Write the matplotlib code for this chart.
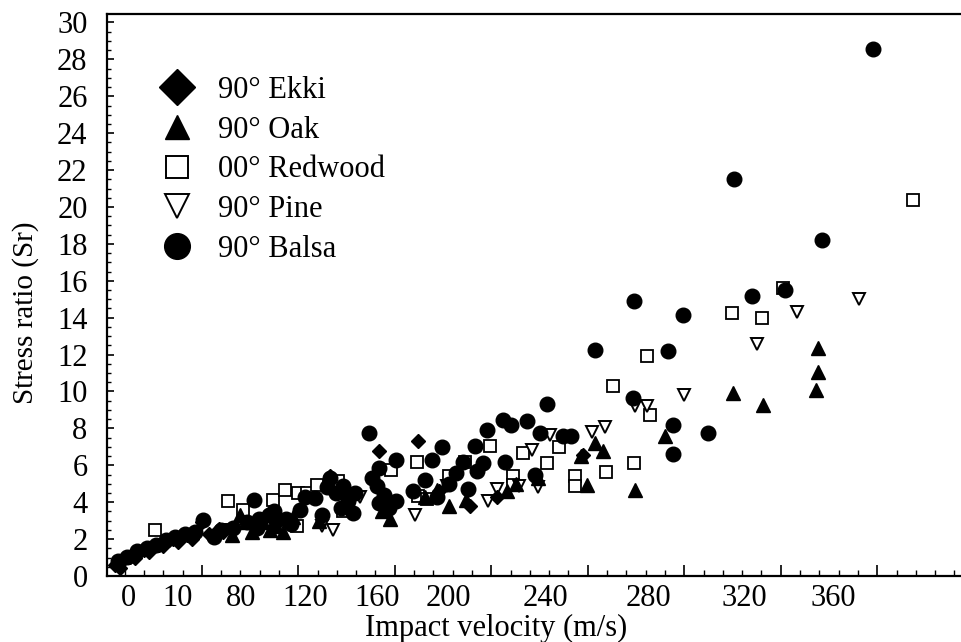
import numpy as np
import matplotlib.pyplot as plt
from matplotlib.lines import Line2D
from matplotlib.ticker import MultipleLocator, FixedLocator, NullFormatter

plt.rcParams['font.family'] = ['Liberation Serif', 'DejaVu Serif']

# ---- data: impact velocity (axis units) and stress ratio ----
ekki_v = [61, 64, 67, 70, 73, 76, 79, 82, 85, 88, 91, 94, 97, 100, 103, 106,
          63, 69, 75, 81, 87, 93, 104,
          124, 133, 150.4, 158, 171, 187, 196, 208.75, 220, 255.8]
ekki_sr = [0.6, 0.85, 1.05, 1.2, 1.4, 1.5, 1.7, 1.85, 2.0, 2.1, 2.2, 2.35, 2.9, 2.3, 2.25, 2.4,
           0.45, 0.95, 1.3, 1.6, 1.85, 2.0, 2.55,
           3.3, 3.0, 5.4, 4.5, 6.8, 7.3, 4.6, 3.8, 4.3, 6.55]

oak_v = [109.6, 113, 115.8, 118, 122.5, 125.5, 128, 131, 135, 146,
         172, 175.4, 190, 195, 200, 207, 224, 228, 237, 255,
         260.8, 264, 257.5, 277.5, 290, 318.3, 330.8, 353.75, 353.75, 353]
oak_sr = [2.2, 3.3, 2.9, 2.4, 2.9, 2.5, 2.7, 2.4, 3.2, 3.0,
          3.5, 3.1, 4.3, 4.65, 3.8, 4.1, 4.6, 5.0, 5.3, 6.5,
          7.2, 6.8, 4.95, 4.65, 7.6, 9.9, 9.25, 12.35, 11.05, 10.1]

redwood_v = [77.5, 108, 114, 126.7, 131.7, 137, 136.7, 141, 145, 153.75, 156,
             176, 186.7, 187, 191, 200, 206.7, 217, 226.7, 226.7, 230.8, 241, 246,
             252.5, 252.5, 265.6, 277.2, 268.3, 283.75, 282.5, 318, 330.4, 339, 393.3]
redwood_sr = [2.5, 4.05, 3.6, 4.1, 4.65, 4.5, 2.7, 4.5, 4.95, 5.15, 3.5,
              5.75, 6.2, 4.35, 4.2, 5.4, 6.2, 7.05, 5.4, 4.95, 6.65, 6.15, 7.0,
              5.4, 4.9, 5.65, 6.1, 10.3, 8.7, 11.9, 14.25, 14.0, 15.6, 20.4]

pine_v = [109, 147, 151.7, 163, 185.8, 199, 216.2, 220, 229, 234.6, 237, 242,
          259.6, 265, 277.5, 282.5, 297.9, 328.3, 345, 370.8]
pine_sr = [2.5, 2.7, 2.5, 4.3, 3.3, 4.9, 4.05, 4.7, 4.9, 6.85, 4.8, 7.65,
           7.8, 8.1, 9.2, 9.2, 9.8, 12.6, 14.3, 15.0]

balsa_v = [62, 66, 70, 74, 78, 82, 86, 90, 94, 97.5, 102, 105, 110,
           116, 120, 127, 134,
           118.9, 121, 125, 128, 132, 138, 140, 144, 147, 149, 150.4, 153, 156, 158, 155, 160, 161,
           166.7, 171, 170, 171, 178, 178, 173, 168, 175,
           185, 190, 193, 197, 200, 203, 206, 211.7, 211, 208, 214, 195,
           216, 222.5, 226, 232.5, 238, 241, 223.3, 236, 247.5, 251,
           260.8, 277, 297.5, 291.25, 276.7, 293.3, 308, 293.3, 326.25, 340, 318.75, 355.4, 376.7]
balsa_sr = [0.8, 1.05, 1.35, 1.5, 1.7, 1.95, 2.1, 2.3, 2.4, 3.05, 2.1, 2.5, 2.6,
            2.9, 2.6, 3.5, 2.8,
            4.1, 3.1, 3.3, 3.0, 3.1, 3.6, 4.3, 4.25, 3.3, 4.8, 5.3, 4.5, 4.9, 4.05, 3.7, 3.4, 4.5,
            7.75, 5.85, 4.9, 3.95, 4.05, 6.3, 4.4, 5.3, 3.7,
            4.6, 5.2, 6.3, 7.0, 5.0, 5.6, 6.2, 5.7, 7.05, 4.7, 6.1, 4.3,
            7.9, 8.45, 8.2, 8.4, 7.75, 9.3, 6.2, 5.5, 7.6, 7.6,
            12.25, 14.9, 14.15, 12.2, 9.65, 8.2, 7.75, 6.6, 15.2, 15.5, 21.5, 18.2, 28.56]

tick_pos = [66.25, 87.1, 113.3, 140, 170, 199.6, 240, 282.9, 322.9, 360]
tick_lbl = ['0', '10', '80', '120', '160', '200', '240', '280', '320', '360']

fig = plt.figure(figsize=(9.61, 6.42), dpi=100)
ax = fig.add_axes([107 / 961, 66 / 642, 854 / 961, 562 / 642])

ax.plot(redwood_v, redwood_sr, 's', ms=8.5, mfc='white', mec='black', mew=1.3, zorder=3)
ax.plot(pine_v, pine_sr, 'v', ms=9, mfc='white', mec='black', mew=1.4, zorder=3)
ax.plot(oak_v, oak_sr, '^', ms=9.5, color='black', zorder=4)
ax.plot(balsa_v, balsa_sr, 'o', ms=10.5, color='black', zorder=4)
ax.plot(ekki_v, ekki_sr, 'D', ms=7, color='black', zorder=4)

ax.set_xlim(57.5, 413.3)
ax.set_ylim(0, 30.46)

for s in ['top', 'left', 'bottom']:
    ax.spines[s].set_linewidth(1.6)
ax.spines['right'].set_visible(False)

# y axis: inward ticks
ax.yaxis.set_major_locator(MultipleLocator(2))
ax.yaxis.set_minor_locator(MultipleLocator(0.5))
ax.tick_params(axis='y', which='major', direction='in', length=5, width=1.2,
               labelsize=22, pad=14)
ax.tick_params(axis='y', which='minor', direction='in', length=3, width=1)

# x axis: labels on their own, tick marks on a secondary axis
ax.xaxis.set_major_locator(FixedLocator(tick_pos))
ax.set_xticklabels(tick_lbl)
ax.tick_params(axis='x', which='major', length=0, labelsize=22, pad=6)
ax.tick_params(axis='x', which='minor', length=0)

sec = ax.secondary_xaxis('bottom')
sec.spines['bottom'].set_visible(False)
sec.xaxis.set_major_locator(FixedLocator(np.arange(97, 413, 40.2)))
sec.xaxis.set_minor_locator(FixedLocator(np.arange(97 - 4 * 8.04, 413, 8.04)))
sec.xaxis.set_major_formatter(NullFormatter())
sec.tick_params(axis='x', which='major', direction='in', length=8, width=1.2)
sec.tick_params(axis='x', which='minor', direction='in', length=4, width=1)

fig.text(496 / 961, 6 / 642, 'Impact velocity (m/s)', fontsize=22,
         ha='center', va='baseline')
fig.text(26 / 961, (642 - 313) / 642, 'Stress ratio (Sr)', fontsize=21,
         rotation=90, ha='center', va='center')

handles = [
    Line2D([], [], ls='None', marker='D', ms=18, color='black'),
    Line2D([], [], ls='None', marker='^', ms=17.5, color='black'),
    Line2D([], [], ls='None', marker='s', ms=16.5, mfc='white', mec='black', mew=1.4),
    Line2D([], [], ls='None', marker='v', ms=17.5, mfc='white', mec='black', mew=1.4),
    Line2D([], [], ls='None', marker='o', ms=18.5, color='black'),
]
labels = ['90° Ekki', '90° Oak', '00° Redwood', '90° Pine', '90° Balsa']
ax.legend(handles, labels, loc='upper left', bbox_to_anchor=(0.057, 0.89),
          frameon=False, fontsize=22, borderpad=0, borderaxespad=0,
          handlelength=1.4, handletextpad=0.64, labelspacing=0.35)

fig.savefig('out.png', dpi=100)
